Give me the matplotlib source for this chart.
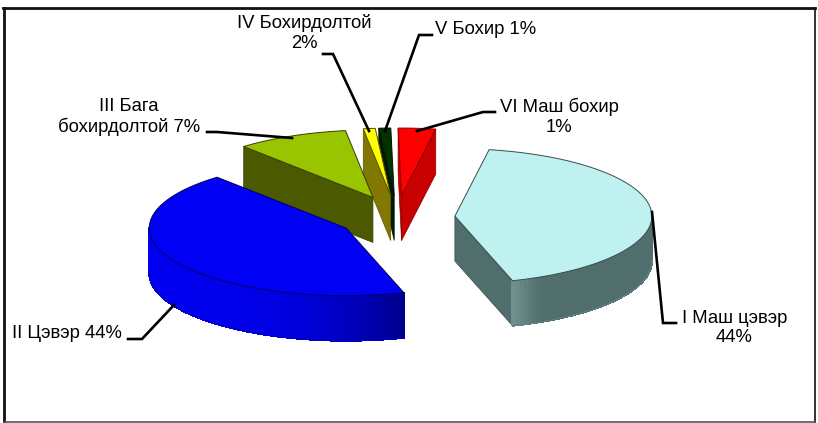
import numpy as np
import matplotlib.pyplot as plt
from matplotlib.colors import to_rgb

plt.rcParams['font.family'] = ['Liberation Sans', 'DejaVu Sans']

# labels printed on the chart
labels = ['I Маш цэвэр\n44%', 'II Цэвэр 44%', 'III Бага\nбохирдолтой 7%',
          'IV Бохирдолтой\n2%', 'V Бохир 1%', 'VI Маш бохир\n1%']

# slice sizes as drawn (degrees), the picture does not follow the printed percents
sweeps = [153, 156, 33, 3.5, 3.5, 11]
topColors = ['#BFF1F1', '#0000F5', '#98C400', '#FFFF00', '#003300', '#FF0000']
wallColors = ['#4F6E6C', '#000080', '#4B5A00', '#807800', '#001A00', '#C80000']
# left and right ends of the shading on the curved wall
arcShade = {0: ('#6F908E', '#4F6E6C'), 1: ('#0000EE', '#000088')}

startAngle = 80
centerX, centerY = 397, 217.5
radiusX, radiusY = 197, 67.5
explodeX, explodeY = 58, 22
depth = 45

fig = plt.figure(figsize=(8.18, 4.23), dpi=100)
ax = fig.add_axes([0, 0, 1, 1])
ax.set_xlim(0, 818)
ax.set_ylim(423, 0)
ax.axis('off')

# compute angle ranges clockwise from the start
ends = startAngle - np.cumsum(sweeps)
starts = ends + np.array(sweeps)


def rim(cx, cy, angles):
    return cx + radiusX * np.cos(angles), cy - radiusY * np.sin(angles)


def drawSlice(i):
    a0, a1 = np.radians(starts[i]), np.radians(ends[i])
    mid = (a0 + a1) / 2
    cx = centerX + explodeX * np.cos(mid)
    cy = centerY - explodeY * np.sin(mid)
    wall = wallColors[i]
    edge = tuple(0.7 * c for c in to_rgb(wall))
    z = (5 - i) * 3

    # flat walls, only the ones facing the viewer
    for a, normal in ((a0, a0 + np.pi / 2), (a1, a1 - np.pi / 2)):
        if np.sin(normal) < 0:
            x, y = rim(cx, cy, a)
            ax.fill([cx, x, x, cx], [cy, y, y + depth, cy + depth], facecolor=wall,
                    edgecolor=edge, lw=0.5, zorder=z + 1)

    # curved wall, only the front part can be seen
    angles = np.linspace(a0, a1, 121)
    front = angles[np.sin(angles) <= 0.02]
    if len(front) > 1:
        x, y = rim(cx, cy, front)
        order = np.argsort(x)
        x, y = x[order], y[order]
        left, right = arcShade.get(i, (wall, wall))
        left, right = np.array(to_rgb(left)), np.array(to_rgb(right))
        for k in range(len(x) - 1):
            t = (x[k] - x[0]) / (x[-1] - x[0])
            if i == 0:
                t = min(1, t * 5)
            else:
                t = t ** 3
            col = left + (right - left) * t
            ax.fill([x[k], x[k + 1], x[k + 1], x[k]],
                    [y[k], y[k + 1], y[k + 1] + depth, y[k] + depth],
                    color=col, lw=0.8, antialiased=False, zorder=z + 2)
        ax.plot(x, y + depth, color=left * 0.6 + 0.4 * right, lw=0.8, zorder=z + 2)

    # top face
    x, y = rim(cx, cy, angles)
    ax.fill(np.r_[cx, x], np.r_[cy, y], facecolor=topColors[i], edgecolor=edge, lw=0.7,
            zorder=z + 3)


# back slices first, the two big ones go on top
for i in [5, 4, 3, 2, 1, 0]:
    drawSlice(i)

leaders = [
    ([652, 663, 676], [212, 323, 323]),
    ([174, 142, 128], [305, 339, 339]),
    ([292, 217, 207], [138, 132, 132]),
    ([369, 333, 323], [131, 54, 54]),
    ([385, 419, 432], [131, 35, 35]),
    ([417, 483, 495], [131, 112, 112]),
]
for lx, ly in leaders:
    ax.plot(lx, ly, color='black', lw=1.9, zorder=40, solid_joinstyle='miter')

textPos = [(734.5, 328), (67, 334), (129, 117), (304, 33), (486, 29), (559, 117)]
for lab, (tx, ty) in zip(labels, textPos):
    ax.text(tx, ty, lab, ha='center', va='center', fontsize=13.3, color='black',
            linespacing=1.2, zorder=41)

# frame around the chart
ax.plot([4, 4], [8, 422], color='#111111', lw=2, zorder=50)
ax.plot([3, 815], [8, 8], color='#111111', lw=2, zorder=50)
ax.plot([815, 815], [8, 422], color='#111111', lw=1.2, zorder=50)
ax.plot([4, 815], [422, 422], color='#555555', lw=1.2, zorder=50)

fig.savefig('out.png', dpi=100)
